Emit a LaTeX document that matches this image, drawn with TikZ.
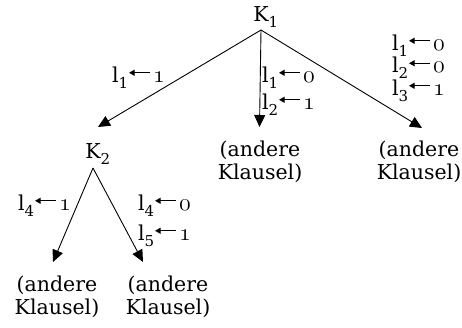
\RequirePackage{fix-cm}
\documentclass[tikz,border=0pt]{standalone}
\usepackage{fontspec}
\setmainfont{DejaVu Serif}
\usetikzlibrary{arrows.meta}
\newcommand{\sbs}[1]{\raisebox{-0.3em}{\fontsize{15}{15}\selectfont #1}}
\newcommand{\osn}[1]{{\fontsize{24}{24}\usefont{OML}{cmm}{m}{it}#1}}
\newcommand{\asgn}[2]{l\sbs{#1}\kern0.5pt\tikz[baseline=0pt]\draw[line width=0.9pt,-{Triangle[length=5.5pt,width=6pt]}] (1.0em,0.45em) -- (0,0.45em);\kern3pt\osn{#2}}
\begin{document}
\begin{tikzpicture}[x=1pt,y=-1pt,
  every node/.style={font=\fontsize{20.5}{23}\selectfont, inner sep=0pt, outer sep=0pt},
  clause/.style={align=center, anchor=north},
  lbl/.style={anchor=base west},
  conn/.style={line width=0.9pt, -{Triangle[length=12pt,width=11pt]}}]
\useasboundingbox (0,0) rectangle (462,327);
% main nodes
\node[anchor=base, text depth=0pt, inner ysep=9pt] (k1) at (261,21) {K\rlap{\sbs{1}}};
\node[anchor=base, text height=15pt, text depth=0pt, inner ysep=10pt] (k2) at (93,158) {K\rlap{\sbs{2}}};
\node[clause] (m) at (260,141) {(andere\\Klausel)};
\node[clause] (r) at (419,141) {(andere\\Klausel)};
\node[clause] (bl) at (57,276) {(andere\\Klausel)};
\node[clause] (br) at (168,276) {(andere\\Klausel)};
% connectors
\coordinate (tl) at (98,127);
\coordinate (tm) at (259.5,127);
\coordinate (tr) at (422,128);
\coordinate (tbl) at (53,262);
\coordinate (tbr) at (143,262);
\draw[conn] (k1.south) -- (tl);
\draw[conn] (k1.south) -- (tm);
\draw[conn] (k1.south) -- (tr);
\draw[conn] (k2.south) -- (tbl);
\draw[conn] (k2.south) -- (tbr);
% labels
\node[lbl] (a1) at (112,82) {\asgn{1}{1}};
\node[lbl] (b1) at (262,82) {\asgn{1}{0}};
\node[lbl] (b2) at (262,109) {\asgn{2}{1}};
\node[lbl] (c1) at (392,50) {\asgn{1}{0}};
\node[lbl] (c2) at (392,72.5) {\asgn{2}{0}};
\node[lbl] (c3) at (392,95) {\asgn{3}{1}};
\node[lbl] (d1) at (18,210) {\asgn{4}{1}};
\node[lbl] (e1) at (138,210) {\asgn{4}{0}};
\node[lbl] (e2) at (138,240) {\asgn{5}{1}};
\end{tikzpicture}
\end{document}
